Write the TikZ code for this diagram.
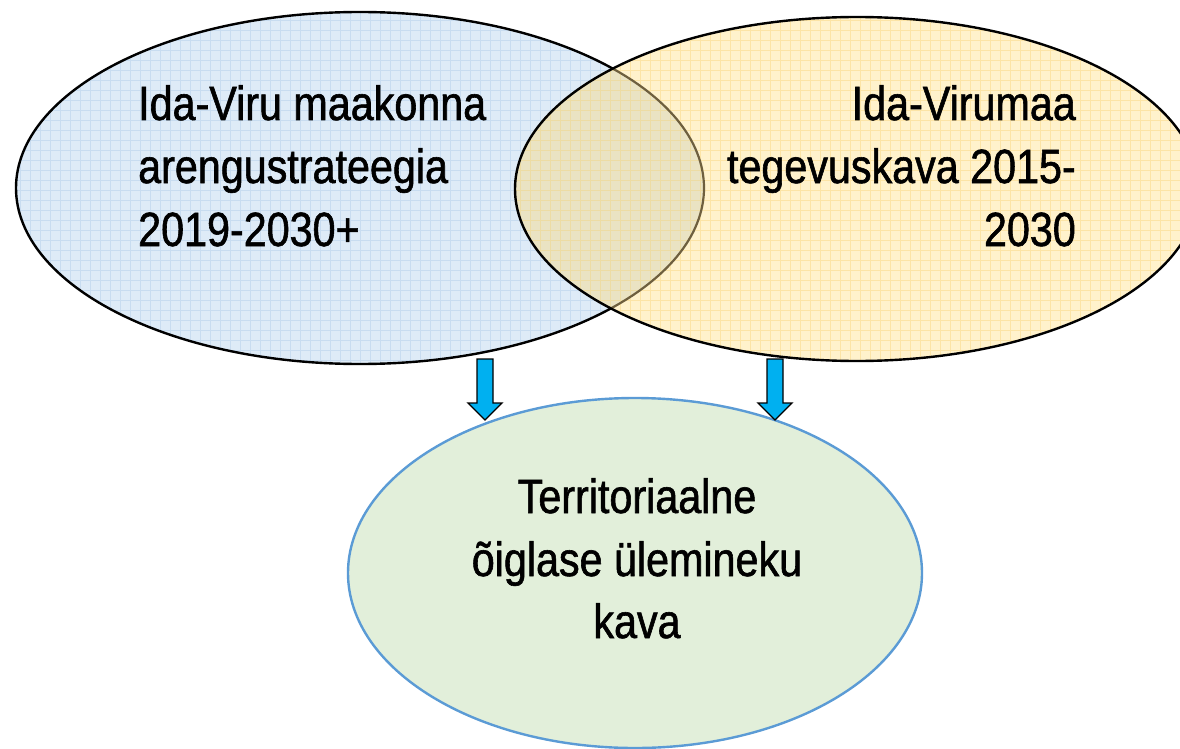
\documentclass[tikz,border=0pt]{standalone}
\usepackage{fontspec}
\setmainfont[FakeStretch=0.86,FakeBold=1.2]{Liberation Sans}
\usetikzlibrary{calc}
\definecolor{blueF}{HTML}{DEEBF7}
\definecolor{blueG}{HTML}{C8DCF0}
\definecolor{yelF}{HTML}{FFF2CC}
\definecolor{yelG}{HTML}{FCE4A6}
\definecolor{tanF}{HTML}{EAE3C3}
\definecolor{tanG}{HTML}{EDDCA4}
\definecolor{brownL}{HTML}{6E5F3E}
\definecolor{greenF}{HTML}{E2EFDA}
\definecolor{blueB}{HTML}{5B9BD5}
\definecolor{arrowF}{HTML}{00B0F0}
\begin{document}
\begin{tikzpicture}[x=1pt,y=-1pt,
  txt/.style={inner sep=0pt, font=\fontsize{48}{58}\selectfont},
  ebord/.style={draw=black, line width=2.4pt},
  gridl/.style={line width=0.6pt},
  barrow/.style={draw=black, line width=1.3pt, fill=arrowF, line join=miter}]
\useasboundingbox (0,0) rectangle (1180,749);
\clip (0,0) rectangle (1180,749);
\def\Lell{(360,188) ellipse [x radius=344pt, y radius=176pt]}
\def\Rell{(857,189) ellipse [x radius=342pt, y radius=172pt]}
\def\Bell{(635,573) ellipse [x radius=287pt, y radius=175pt]}
% left ellipse
\fill[blueF] \Lell;
\begin{scope}
  \clip \Lell;
  \draw[gridl, blueG] (0,0) grid[step=10pt] (720,370);
\end{scope}
\draw[ebord] \Lell;
% right ellipse
\fill[yelF] \Rell;
\begin{scope}
  \clip \Rell;
  \draw[gridl, yelG] (510,10) grid[step=10pt] (1200,370);
\end{scope}
% overlap
\begin{scope}
  \clip \Lell;
  \fill[tanF] \Rell;
  \clip \Rell;
  \draw[gridl, tanG] (500,0) grid[step=10pt] (720,370);
\end{scope}
\begin{scope}
  \clip \Rell;
  \draw[line width=2.2pt, brownL] \Lell;
\end{scope}
\draw[ebord] \Rell;
% bottom ellipse
\fill[greenF] \Bell;
\draw[line width=2.4pt, blueB] \Bell;
% arrows
\foreach \cx/\nm in {485/a1,775/a2}{
  \coordinate (\nm) at (\cx,359);
  \draw[barrow] ($(\nm)+(-8,0)$) -- ($(\nm)+(8,0)$) -- ($(\nm)+(8,44)$) -- ($(\nm)+(17,44)$)
    -- ($(\nm)+(0,61)$) -- ($(\nm)+(-17,44)$) -- ($(\nm)+(-8,44)$) -- cycle;
}
% texts
\node[txt, anchor=base west] (l1) at (138,120) {Ida-Viru maakonna};
\node[txt, anchor=base west] (l2) at (138,183) {arengustrateegia};
\node[txt, anchor=base west] (l3) at (138,246) {2019-2030+};
\node[txt, anchor=base east] (r1) at (1076,120) {Ida-Virumaa};
\node[txt, anchor=base east] (r2) at (1076,183) {tegevuskava 2015-};
\node[txt, anchor=base east] (r3) at (1076,246) {2030};
\node[txt, anchor=base] (b1) at (637,513) {Territoriaalne};
\node[txt, anchor=base] (b2) at (637,576) {õiglase ülemineku};
\node[txt, anchor=base] (b3) at (637,638) {kava};
\end{tikzpicture}
\end{document}
